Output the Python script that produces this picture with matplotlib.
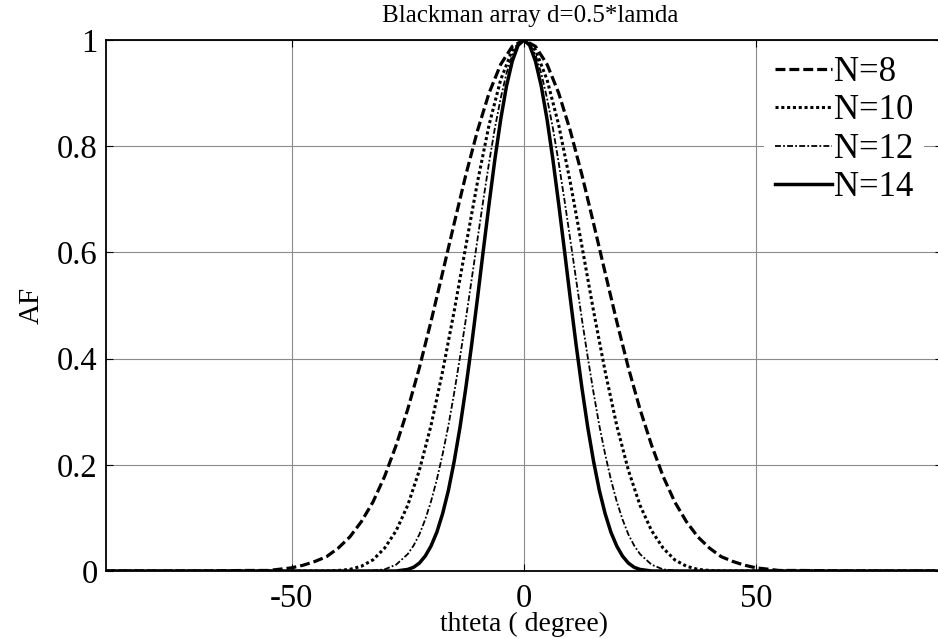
import numpy as np
import matplotlib
matplotlib.use('Agg')
from matplotlib import pyplot as plt

# values (AF against theta in degrees)
theta_wide = [-90, -80, -70, -60, -55, -50, -47.5, -45, -42.5, -40, -37.5, -35,
              -32.5, -30, -27.5, -25, -22.5, -20, -17.5, -15, -12.5, -10, -7.5,
              -5, -2.5, 0, 2.5, 5, 7.5, 10, 12.5, 15, 17.5, 20, 22.5, 25, 27.5,
              30, 32.5, 35, 37.5, 40, 42.5, 45, 47.5, 50, 55, 60, 70, 80, 90]
theta_narrow = [-90, -80, -70, -60, -50, -40, -35, -32.5, -30, -27.5, -25,
                -23.75, -22.5, -21.25, -20, -18.75, -17.5, -16.25, -15, -13.75,
                -12.5, -11.25, -10, -8.75, -7.5, -6.25, -5, -3.75, -2.5, -1.25,
                0, 1.25, 2.5, 3.75, 5, 6.25, 7.5, 8.75, 10, 11.25, 12.5, 13.75,
                15, 16.25, 17.5, 18.75, 20, 21.25, 22.5, 23.75, 25, 27.5, 30,
                32.5, 35, 40, 50, 60, 70, 80, 90]

af_8 = [0, 0, 0, 0.001, 0.001, 0.006, 0.011, 0.018, 0.027, 0.043, 0.064,
        0.093, 0.130, 0.178, 0.237, 0.305, 0.383, 0.470, 0.562, 0.655, 0.746,
        0.829, 0.900, 0.954, 0.988, 1, 0.988, 0.954, 0.900, 0.829, 0.746,
        0.655, 0.562, 0.470, 0.383, 0.305, 0.237, 0.178, 0.130, 0.093, 0.064,
        0.043, 0.027, 0.018, 0.011, 0.006, 0.001, 0.001, 0, 0, 0]
af_10 = [0, 0, 0, 0, 0, 0, 0, 0, 0, 0.001, 0.003, 0.009, 0.021, 0.043,
         0.076, 0.124, 0.190, 0.274, 0.376, 0.490, 0.612, 0.732, 0.840,
         0.925, 0.981, 1, 0.981, 0.925, 0.840, 0.732, 0.612, 0.490, 0.376,
         0.274, 0.190, 0.124, 0.076, 0.043, 0.021, 0.009, 0.003, 0.001, 0,
         0, 0, 0, 0, 0, 0, 0, 0]
af_12 = [0, 0, 0, 0, 0, 0, 0, 0.001, 0.003, 0.012, 0.032, 0.048, 0.069, 0.097,
         0.131, 0.172, 0.220, 0.274, 0.336, 0.403, 0.474, 0.549, 0.624, 0.698,
         0.769, 0.834, 0.890, 0.937, 0.972, 0.993, 1, 0.993, 0.972, 0.937,
         0.890, 0.834, 0.769, 0.698, 0.624, 0.549, 0.474, 0.403, 0.336, 0.274,
         0.220, 0.172, 0.131, 0.097, 0.069, 0.048, 0.032, 0.012, 0.003, 0.001,
         0, 0, 0, 0, 0, 0, 0]
af_14 = [0, 0, 0, 0, 0, 0, 0, 0, 0, 0, 0.003, 0.007, 0.015, 0.028, 0.047,
         0.073, 0.108, 0.152, 0.207, 0.271, 0.345, 0.426, 0.513, 0.603, 0.691,
         0.775, 0.850, 0.913, 0.960, 0.990, 1, 0.990, 0.960, 0.913, 0.850,
         0.775, 0.691, 0.603, 0.513, 0.426, 0.345, 0.271, 0.207, 0.152, 0.108,
         0.073, 0.047, 0.028, 0.015, 0.007, 0.003, 0, 0, 0, 0, 0, 0, 0, 0, 0, 0]

labels = ['N=8', 'N=10', 'N=12', 'N=14']
xticks = [-50, 0, 50]
yticks = [0, 0.2, 0.4, 0.6, 0.8, 1]

plt.rcParams['font.family'] = ['Liberation Serif', 'DejaVu Serif']
plt.rcParams['axes.unicode_minus'] = False

fig = plt.figure(figsize=(9.38, 6.39), dpi=100)
ax = fig.add_axes([0.113, 0.1064, 0.891, 0.831])

kw = dict(color='k', solid_joinstyle='round', dash_joinstyle='round')
ax.plot(theta_wide, af_8, lw=2.3, dashes=(3.1, 1.25), label=labels[0], **kw)
ax.plot(theta_wide, af_10, lw=2.2, dashes=(1, 0.9), label=labels[1], **kw)
ax.plot(theta_narrow, af_12, lw=1.3, dashes=(3.3, 1.2, 1, 1.2), label=labels[2], **kw)
ax.plot(theta_narrow, af_14, lw=2.5, label=labels[3], **kw)

ax.set_xlim(-90, 90)
ax.set_ylim(0, 1)
ax.set_xticks(xticks)
ax.set_yticks(yticks)
ax.set_yticklabels(['%g' % v for v in yticks])
ax.grid(True, color='#8c8c8c', lw=0.8)
ax.tick_params(direction='in', length=5, top=True, right=True, labelsize=23.5)
ax.tick_params(axis='x', pad=9)
ax.tick_params(axis='y', pad=6)
for s in ax.spines.values():
    s.set_linewidth(1.3)

ax.set_title('Blackman array d=0.5*lamda', fontsize=18, pad=13, x=0.507)
ax.set_xlabel('thteta ( degree)', fontsize=20)
ax.set_ylabel('AF', fontsize=21)
ax.xaxis.set_label_coords(0.5, -0.077)
ax.yaxis.set_label_coords(-0.073, 0.5)

leg = ax.legend(loc='upper right', fontsize=25, frameon=True, fancybox=False,
                edgecolor='none', framealpha=1, handlelength=1.64,
                handletextpad=0.08, labelspacing=0.16, borderpad=0.3,
                borderaxespad=0, bbox_to_anchor=(0.979, 0.99))

plt.savefig('out.png', dpi=100)
